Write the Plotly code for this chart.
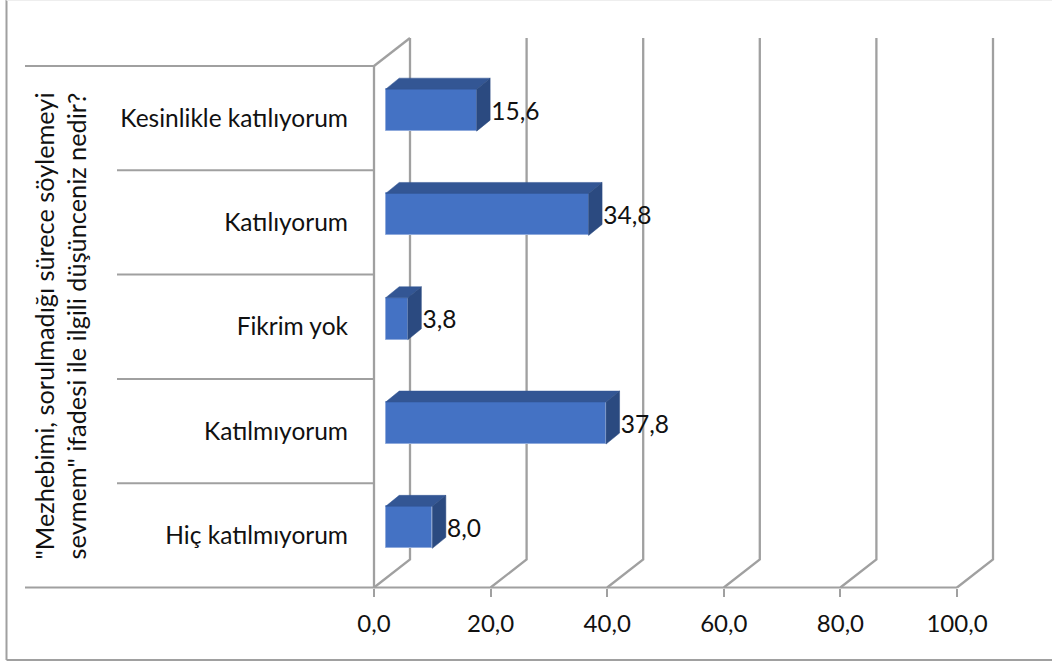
import plotly.graph_objects as go

categories = ["Hiç katılmıyorum", "Katılmıyorum", "Fikrim yok", "Katılıyorum", "Kesinlikle katılıyorum"]
values = [8.0, 37.8, 3.8, 34.8, 15.6]
x_ticks = [0, 20, 40, 60, 80, 100]
y_title = '"Mezhebimi, sorulmadığı sürece söylemeyi<br>sevmem" ifadesi ile ilgili düşünceniz nedir?'

W, H = 1052, 662
L, R, T, B = 374, 957, 66, 587.5
PX = (R - L) / 100.0
PY = (B - T) / 5.0
FONT = "Lato"
FS = 24.5
GRID = "#A0A0A0"
ink = "#111111"

ys = list(range(len(categories)))
y0, y1 = -0.5, len(categories) - 0.5

# axes cover the whole page so nothing drawn around the plot is clipped
x_range = [-L / PX, (W - L) / PX]
y_range = [y0 - (H - B) / PY, y1 + T / PY]

# pseudo-3D offsets, pixels converted to axis units
wall_dx, wall_dy = 36 / PX, 28 / PY
base = 11.7 / PX
bar_low, bar_h = -13 / PY, 42 / PY
dx, dy = 13.5 / PX, 11 / PY

fig = go.Figure()

# walls + floor
wx, wy = [], []
for v in x_ticks:
    wx += [v, v + wall_dx, v + wall_dx, None]
    wy += [y0, y0 + wall_dy, y1 + wall_dy, None]
wx += [x_ticks[0] + wall_dx, x_ticks[0], None]
wy += [y1 + wall_dy, y1, None]
# vertical front axis
wx += [x_ticks[0], x_ticks[0], None]
wy += [y0, y1, None]
fig.add_trace(go.Scatter(x=wx, y=wy, mode="lines", line=dict(color=GRID, width=2.3),
                         hoverinfo="skip", showlegend=False))

# category separators extending left of the axis; the lowest one runs on as the floor edge
sx, sy = [], []
for i in range(len(categories) + 1):
    left = (25 - L) / PX if i in (0, len(categories)) else (117 - L) / PX
    right = x_ticks[-1] if i == 0 else 0
    sx += [left, right, None]
    sy += [y0 + i, y0 + i, None]
fig.add_trace(go.Scatter(x=sx, y=sy, mode="lines", line=dict(color=GRID, width=2),
                         hoverinfo="skip", showlegend=False))

# bars on an overlaid subplot so they sit above the walls
fig.add_trace(go.Bar(y=ys, x=values, base=base, orientation="h", offset=bar_low, width=bar_h,
                     marker=dict(color="#4472C4", line=dict(color="#8FAADC", width=1)),
                     xaxis="x2", yaxis="y2", showlegend=False, hoverinfo="skip"))
for i, v in zip(ys, values):
    xe = base + v
    yb, yt = i + bar_low, i + bar_low + bar_h
    fig.add_trace(go.Scatter(x=[base, xe, xe + dx, base + dx, base], y=[yt, yt, yt + dy, yt + dy, yt],
                             mode="lines", fill="toself", fillcolor="#335694", line=dict(color="#335694", width=0.5),
                             xaxis="x2", yaxis="y2", showlegend=False, hoverinfo="skip"))
    fig.add_trace(go.Scatter(x=[xe, xe + dx, xe + dx, xe, xe], y=[yb, yb + dy, yt + dy, yt, yb],
                             mode="lines", fill="toself", fillcolor="#2B4A80", line=dict(color="#2B4A80", width=0.5),
                             xaxis="x2", yaxis="y2", showlegend=False, hoverinfo="skip"))

# value labels
fig.add_trace(go.Scatter(x=[base + v + dx + 1.2 / PX for v in values], y=[i + 4.5 / PY for i in ys],
                         text=[f"{v:.1f}".replace(".", ",") for v in values], mode="text",
                         textposition="middle right", textfont=dict(family=FONT, size=FS, color=ink),
                         xaxis="x2", yaxis="y2", showlegend=False, hoverinfo="skip"))

fig.update_layout(
    width=W, height=H, autosize=False, separators=",.",
    paper_bgcolor="white", plot_bgcolor="rgba(0,0,0,0)",
    margin=dict(l=0, r=0, t=0, b=0),
    font=dict(family=FONT, size=FS, color=ink),
    xaxis=dict(range=x_range, domain=[0, 1], anchor="free", position=(H - B) / H, tickvals=x_ticks, tickformat=".1f",
               showgrid=False, zeroline=False, showline=False, ticks="outside", ticklen=8, tickcolor=GRID, tickwidth=1.5,
               ticklabelstandoff=7, tickfont=dict(family=FONT, size=24, color=ink)),
    yaxis=dict(range=y_range, domain=[0, 1], anchor="free", position=L / W, tickvals=ys, ticktext=categories,
               showgrid=False, zeroline=False, showline=False, ticks="", ticklabelstandoff=26,
               tickfont=dict(family=FONT, size=FS, color=ink)),
    xaxis2=dict(range=x_range, overlaying="x", visible=False),
    yaxis2=dict(range=y_range, overlaying="y", visible=False),
    bargap=0,
    annotations=[dict(text=y_title, textangle=-90, xref="paper", yref="paper", x=59.5 / W, y=1 - 326 / H,
                      showarrow=False, align="center", xanchor="center", yanchor="middle",
                      font=dict(family=FONT, size=25.3, color=ink))],
    shapes=[
        dict(type="line", xref="paper", yref="paper", x0=6.5 / W, x1=6.5 / W, y0=1 - 660 / H, y1=1,
             line=dict(color=GRID, width=2)),
        dict(type="line", xref="paper", yref="paper", x0=6.5 / W, x1=1, y0=1 - 660 / H, y1=1 - 660 / H,
             line=dict(color=GRID, width=2)),
        dict(type="line", xref="paper", yref="paper", x0=6.5 / W, x1=1, y0=1 - 0.5 / H, y1=1 - 0.5 / H,
             line=dict(color="#EEEEEE", width=1)),
    ],
)

fig.write_html("out.html", config={"displayModeBar": False},
               post_script="document.body.style.margin='0';document.body.style.overflow='hidden';")
